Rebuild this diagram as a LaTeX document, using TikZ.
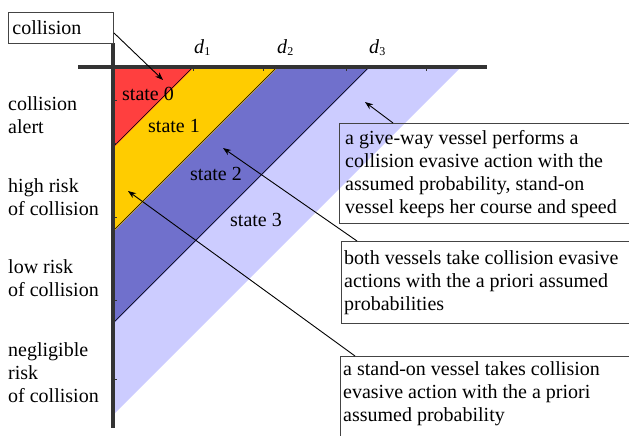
\documentclass[tikz,border=0pt]{standalone}
\usepackage{fontspec}
\setmainfont{Liberation Serif}
\usetikzlibrary{arrows.meta,calc}
\definecolor{redz}{HTML}{FF3F3F}
\definecolor{yelz}{HTML}{FFCC00}
\definecolor{bluz}{HTML}{7070CC}
\definecolor{lavz}{HTML}{CCCCFF}
\definecolor{axisc}{HTML}{333333}
\definecolor{boxc}{HTML}{444444}
\begin{document}
\begin{tikzpicture}[x=1pt,y=-1pt,
  txt/.style={anchor=base west, inner sep=0pt, font=\fontsize{20}{23}\selectfont, align=left},
  frame/.style={draw=boxc, line width=0.9pt, anchor=north west, inner sep=0pt},
  axisline/.style={draw=axisc, line width=3.5pt},
  border/.style={draw=black, line width=0.7pt},
  tick/.style={draw=axisc, line width=1pt},
  pointer/.style={draw=black, line width=0.9pt, -{Stealth[length=8pt,width=6pt]}},
  dlbl/.style={anchor=base west, inner sep=0pt, font=\fontsize{20}{23}\selectfont}
]
\useasboundingbox (0,0) rectangle (629,436);
\clip (0,0) rectangle (629,436);

% regions
\fill[lavz] (115,68) -- (460,68) -- (115,413) -- cycle;
\fill[bluz] (115,68) -- (369,68) -- (115,322) -- cycle;
\fill[yelz] (115,68) -- (277,68) -- (115,230) -- cycle;
\fill[redz] (115,68) -- (193,68) -- (115,146) -- cycle;
\draw[border] (193,67) -- (115,145);
\draw[border] (277,67) -- (115,229);
\draw[border] (369,67) -- (115,321);

% axes
\draw[axisline] (78,67) -- (487,67);
\draw[axisline] (113,43) -- (113,428);
\foreach \tx in {193,263,346,426} \draw[tick] (\tx,67) -- (\tx,71);
\foreach \ty in {100,143,217,300,379} \draw[tick] (113,\ty) -- (117,\ty);

% axis labels
\node[dlbl] (d1) at (194,53) {\textit{d}\raisebox{-2pt}{\fontsize{12}{12}\selectfont 1}};
\node[dlbl] (d2) at (277,53) {\textit{d}\raisebox{-2pt}{\fontsize{12}{12}\selectfont 2}};
\node[dlbl] (d3) at (369,53) {\textit{d}\raisebox{-2pt}{\fontsize{12}{12}\selectfont 3}};

% state labels
\node[txt] (s0) at (122,100) {state 0};
\node[txt] (s1) at (148,132) {state 1};
\node[txt] (s2) at (190,180) {state 2};
\node[txt] (s3) at (230,226) {state 3};

% left labels (anchored at the baseline of the last line)
\node[txt] (l1) at (8,133) {collision\\alert};
\node[txt] (l2) at (8,215) {high risk\\of collision};
\node[txt] (l3) at (8,296) {low risk\\of collision};
\node[txt] (l4) at (8,402) {negligible\\risk\\of collision};

% collision box
\node[draw=boxc, line width=0.9pt, anchor=north west, inner xsep=4pt, inner ysep=0pt,
      text width=97pt, minimum height=31pt, align=left,
      font=\fontsize{20}{23}\selectfont] (coll) at (8,12) {collision};

% explanation boxes
\node[frame, minimum width=330pt, minimum height=100pt] (boxA) at (339,123) {};
\node[frame, minimum width=330pt, minimum height=82pt] (boxB) at (341,241) {};
\node[frame, minimum width=330pt, minimum height=110pt] (boxC) at (340,356) {};
\node[txt] (tA) at (345,213) {a give-way vessel performs a\\collision evasive action with the\\assumed probability, stand-on\\vessel keeps her course and speed};
\node[txt] (tB) at (344,310) {both vessels take collision evasive\\actions with the a priori assumed\\probabilities};
\node[txt] (tC) at (343,421) {a stand-on vessel takes collision\\evasive action with the a priori\\assumed probability};

% pointers
\coordinate (pColl) at (163,80);
\coordinate (pA) at (365,102);
\coordinate (pB) at (223,148);
\coordinate (pC) at (128,191);
\draw[pointer] ($(coll.south east)+(0,-11)$) -- (pColl);
\draw[pointer] ($(boxA.north west)+(54,0)$) -- (pA);
\draw[pointer] ($(boxB.north west)+(16,0)$) -- (pB);
\draw[pointer] ($(boxC.north west)+(15,0)$) -- (pC);
\end{tikzpicture}
\end{document}
